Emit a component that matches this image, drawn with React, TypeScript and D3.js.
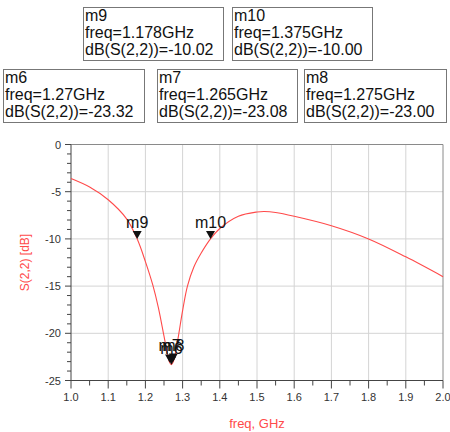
import React, { useEffect, useRef } from 'react'
import * as d3 from 'd3'

// S(2,2) trace
const freqs = [1.0, 1.05, 1.1, 1.15, 1.178, 1.2, 1.22, 1.235, 1.25, 1.26, 1.265, 1.27, 1.275, 1.28, 1.29, 1.3, 1.313, 1.33, 1.35, 1.375, 1.4, 1.45, 1.5, 1.52, 1.55, 1.6, 1.7, 1.8, 1.9, 2.0]
const s22 = [-3.6, -4.5, -5.85, -7.9, -10.02, -12.4, -14.9, -17.3, -20.3, -22.3, -23.08, -23.32, -23.0, -22.3, -20.0, -17.6, -15.0, -13.0, -11.5, -10.0, -8.9, -7.6, -7.15, -7.1, -7.2, -7.6, -8.6, -10.0, -11.9, -14.0]

const markerNames = ['m9', 'm10', 'm6', 'm7', 'm8']
const markerFreqs = [1.178, 1.375, 1.27, 1.265, 1.275]
const markerVals = [-10.02, -10.0, -23.32, -23.08, -23.0]
const markerFreqText = ['1.178GHz', '1.375GHz', '1.27GHz', '1.265GHz', '1.275GHz']
const markerValText = ['-10.02', '-10.00', '-23.32', '-23.08', '-23.00']

const xTicks = [1.0, 1.1, 1.2, 1.3, 1.4, 1.5, 1.6, 1.7, 1.8, 1.9, 2.0]
const yTicks = [0, -5, -10, -15, -20, -25]

const W = 450
const H = 432
const plot = { left: 71, top: 144.5, right: 443, bottom: 380.5 }
// readout boxes: [x, y, w, h]
const boxes = [
  [83, 7, 140, 53],
  [232, 7, 140, 53],
  [3, 69, 141, 53],
  [157, 69, 140, 53],
  [304, 69, 142, 53],
]
const red = '#ff4a4a'

export default function App() {
  const ref = useRef<SVGSVGElement>(null)

  useEffect(() => {
    const svg = d3.select(ref.current)
    svg.selectAll('*').remove()

    const x = d3.scaleLinear().domain([1.0, 2.0]).range([plot.left, plot.right])
    const y = d3.scaleLinear().domain([-25, 0]).range([plot.bottom, plot.top])

    const g = svg.append('g')

    // grid
    g.selectAll('.vg').data(xTicks.slice(1, -1)).enter().append('line')
      .attr('x1', d => x(d)).attr('x2', d => x(d))
      .attr('y1', plot.top).attr('y2', plot.bottom)
      .attr('stroke', '#d4d4d4').attr('stroke-width', 1)
    g.selectAll('.hg').data(yTicks.slice(1, -1)).enter().append('line')
      .attr('x1', plot.left).attr('x2', plot.right)
      .attr('y1', d => y(d)).attr('y2', d => y(d))
      .attr('stroke', '#d4d4d4').attr('stroke-width', 1)

    // frame
    g.append('path')
      .attr('d', `M${plot.left},${plot.top}H${plot.right}V${plot.bottom}`)
      .attr('fill', 'none').attr('stroke', '#8a8a8a')
    g.append('path')
      .attr('d', `M${plot.left},${plot.top}V${plot.bottom}H${plot.right}`)
      .attr('fill', 'none').attr('stroke', '#444')

    // ticks
    const xMinor = d3.range(0, 21).map(i => 1 + i * 0.05)
    g.selectAll('.xt').data(xMinor).enter().append('line')
      .attr('x1', d => x(d)).attr('x2', d => x(d))
      .attr('y1', plot.bottom)
      .attr('y2', (d, i) => plot.bottom + (i % 2 === 0 ? 8 : 5))
      .attr('stroke', '#444')
    const yMinor = d3.range(0, 26).map(i => -i)
    g.selectAll('.yt').data(yMinor).enter().append('line')
      .attr('y1', d => y(d)).attr('y2', d => y(d))
      .attr('x1', plot.left)
      .attr('x2', (d, i) => plot.left - (i % 5 === 0 ? 6 : 4))
      .attr('stroke', '#444')

    // tick labels
    g.selectAll('.xl').data(xTicks).enter().append('text')
      .attr('x', d => x(d)).attr('y', 401)
      .attr('text-anchor', 'middle')
      .attr('font-family', 'Liberation Sans, Arial, sans-serif')
      .attr('font-size', 11).attr('fill', '#333')
      .text(d => d.toFixed(1))
    g.selectAll('.yl').data(yTicks).enter().append('text')
      .attr('x', 61).attr('y', d => y(d) + 4)
      .attr('text-anchor', 'end')
      .attr('font-family', 'Liberation Sans, Arial, sans-serif')
      .attr('font-size', 11).attr('fill', '#333')
      .text(d => String(d))

    // axis titles
    g.append('text')
      .attr('transform', `translate(29, ${(plot.top + plot.bottom) / 2}) rotate(-90)`)
      .attr('text-anchor', 'middle')
      .attr('font-family', 'Liberation Sans, Arial, sans-serif')
      .attr('font-size', 12).attr('fill', red)
      .text('S(2,2) [dB]')
    g.append('text')
      .attr('x', (plot.left + plot.right) / 2).attr('y', 428)
      .attr('text-anchor', 'middle')
      .attr('font-family', 'Liberation Sans, Arial, sans-serif')
      .attr('font-size', 13).attr('fill', red)
      .text('freq, GHz')

    // trace
    const line = d3.line<number>()
      .x((d, i) => x(freqs[i]))
      .y(d => y(d))
      .curve(d3.curveCatmullRom.alpha(0.5))
    g.append('path').datum(s22)
      .attr('d', line)
      .attr('fill', 'none').attr('stroke', red).attr('stroke-width', 1.1)

    // markers
    markerNames.forEach((name, i) => {
      const px = x(markerFreqs[i])
      const py = y(markerVals[i])
      g.append('path')
        .attr('d', `M${px},${py}L${px - 4.5},${py - 8}L${px + 4.5},${py - 8}Z`)
        .attr('fill', '#111')
      g.append('text')
        .attr('x', px).attr('y', py - 11)
        .attr('text-anchor', 'middle')
        .attr('font-family', 'Liberation Sans, Arial, sans-serif')
        .attr('font-size', 16).attr('fill', '#111')
        .text(name)
    })

    // readout boxes
    boxes.forEach((b, i) => {
      g.append('rect')
        .attr('x', b[0] + 0.5).attr('y', b[1] + 0.5)
        .attr('width', b[2]).attr('height', b[3])
        .attr('fill', '#fff').attr('stroke', '#777')
      const lines = [markerNames[i], 'freq=' + markerFreqText[i], 'dB(S(2,2))=' + markerValText[i]]
      lines.forEach((t, j) => {
        g.append('text')
          .attr('x', b[0] + 2).attr('y', b[1] + 14 + j * 17)
          .attr('font-family', 'Liberation Sans, Arial, sans-serif')
          .attr('font-size', 16).attr('fill', '#111')
          .text(t)
      })
    })
  }, [])

  return (
    <svg ref={ref} width={W} height={H}
      style={{ position: 'absolute', left: 0, top: 0, background: '#fff' }} />
  )
}
